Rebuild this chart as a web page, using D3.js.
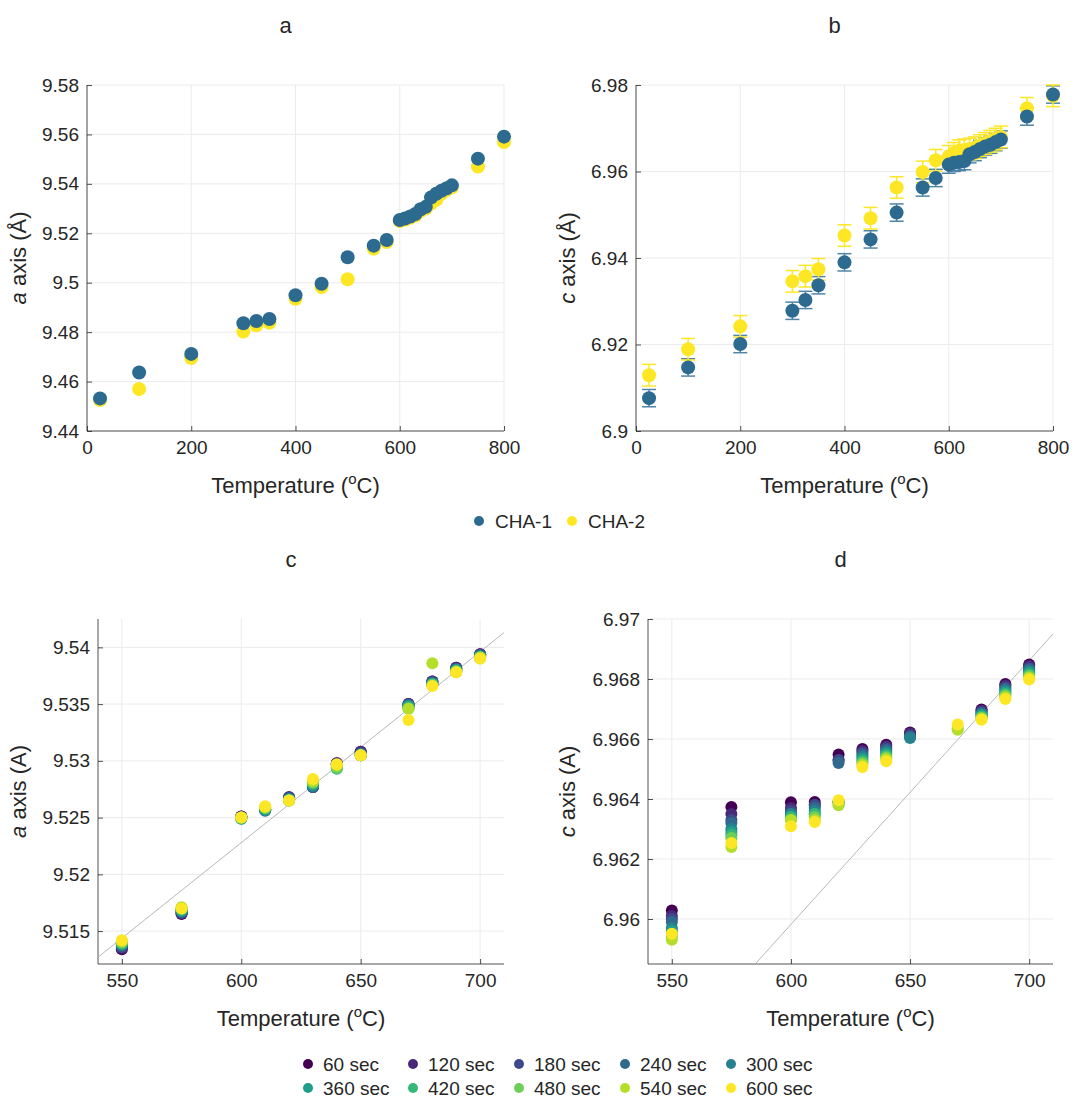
<html>
<head>
<script src="https://d3js.org/d3.v7.min.js"></script>
<style>
body { margin: 0; background: #fff; }
text { font-family: "Liberation Sans", Arial, sans-serif; fill: #262626; }
</style>
</head>
<body>
<script>
// ---- data: panels a & b (CHA-1, CHA-2) ----
var tempsAB = [25, 100, 200, 300, 325, 350, 400, 450, 500, 550, 575, 600, 610, 620, 630, 640, 650, 660, 670, 680, 690, 700, 750, 800];
var aCHA1 = [9.4532, 9.4637, 9.4712, 9.4836, 9.4845, 9.4853, 9.4949, 9.4996, 9.5103, 9.5150, 9.5173, 9.5254, 9.5260, 9.5268, 9.5278, 9.5297, 9.5307, 9.5345, 9.5360, 9.5372, 9.5382, 9.5394, 9.5502, 9.5591];
var aCHA2 = [9.4525, 9.4570, 9.4695, 9.4802, 9.4828, 9.4838, 9.4935, 9.4982, 9.5014, 9.5138, 9.5165, 9.5250, 9.5255, 9.5263, 9.5272, 9.5290, 9.5300, 9.5320, 9.5335, 9.5360, 9.5375, 9.5386, 9.5470, 9.5569];
var cCHA1 = [6.9076, 6.9147, 6.9201, 6.9278, 6.9303, 6.9337, 6.9390, 6.9443, 6.9505, 6.9563, 6.9585, 6.9616, 6.9620, 6.9622, 6.9624, 6.9640, 6.9645, 6.9652, 6.9658, 6.9662, 6.9668, 6.9674, 6.9727, 6.9778];
var cCHA2 = [6.9129, 6.9189, 6.9242, 6.9346, 6.9358, 6.9374, 6.9452, 6.9492, 6.9563, 6.9599, 6.9626, 6.9635, 6.9642, 6.9648, 6.9650, 6.9652, 6.9655, 6.9660, 6.9665, 6.9670, 6.9675, 6.9680, 6.9746, 6.9775];
var errCHA1 = 0.002, errCHA2 = 0.0025;
var seriesAB = ["CHA-1", "CHA-2"];
var colorsAB = ["#2d6a8f", "#fde725"];

// ---- data: panels c & d (time series) ----
var tempsCD = [550, 575, 600, 610, 620, 630, 640, 650, 670, 680, 690, 700];
var timeLabels = ["60 sec", "120 sec", "180 sec", "240 sec", "300 sec", "360 sec", "420 sec", "480 sec", "540 sec", "600 sec"];
// rows: temperature, columns: time series
var aTime = [
  [9.5134, 9.5135, 9.5136, 9.5137, 9.5138, 9.5139, 9.5139, 9.5140, 9.5141, 9.5142],
  [9.5165, 9.5166, 9.5166, 9.5167, 9.5168, 9.5168, 9.5169, 9.5170, 9.5171, 9.5170],
  [9.5251, 9.5251, 9.5250, 9.5250, 9.5250, 9.5249, 9.5249, 9.5250, 9.5250, 9.5250],
  [9.5257, 9.5257, 9.5257, 9.5256, 9.5257, 9.5257, 9.5258, 9.5259, 9.5259, 9.5260],
  [9.5268, 9.5268, 9.5267, 9.5267, 9.5266, 9.5266, 9.5265, 9.5265, 9.5265, 9.5265],
  [9.5277, 9.5277, 9.5277, 9.5277, 9.5278, 9.5279, 9.5280, 9.5281, 9.5282, 9.5284],
  [9.5298, 9.5298, 9.5297, 9.5297, 9.5296, 9.5294, 9.5293, 9.5294, 9.5296, 9.5297],
  [9.5308, 9.5308, 9.5307, 9.5306, 9.5305, 9.5305, 9.5305, 9.5305, 9.5305, 9.5305],
  [9.5350, 9.5350, 9.5349, 9.5349, 9.5349, 9.5348, 9.5347, 9.5346, 9.5346, 9.5336],
  [9.5370, 9.5370, 9.5369, 9.5369, 9.5368, 9.5368, 9.5367, 9.5367, 9.5386, 9.5366],
  [9.5382, 9.5382, 9.5381, 9.5381, 9.5380, 9.5380, 9.5379, 9.5379, 9.5378, 9.5378],
  [9.5394, 9.5394, 9.5393, 9.5393, 9.5392, 9.5392, 9.5391, 9.5391, 9.5391, 9.5390]
];
var cTime = [
  [6.96028, 6.96010, 6.96000, 6.95990, 6.95970, 6.95960, 6.95950, 6.95940, 6.95931, 6.95951],
  [6.96373, 6.96350, 6.96330, 6.96320, 6.96300, 6.96290, 6.96280, 6.96270, 6.96240, 6.96253],
  [6.96389, 6.96370, 6.96360, 6.96350, 6.96350, 6.96340, 6.96340, 6.96330, 6.96330, 6.96309],
  [6.96390, 6.96380, 6.96380, 6.96370, 6.96360, 6.96350, 6.96350, 6.96340, 6.96330, 6.96323],
  [6.96548, 6.96530, 6.96530, 6.96520, 6.96390, 6.96390, 6.96390, 6.96380, 6.96380, 6.96396],
  [6.96567, 6.96560, 6.96553, 6.96547, 6.96540, 6.96533, 6.96527, 6.96520, 6.96513, 6.96507],
  [6.96581, 6.96575, 6.96569, 6.96563, 6.96557, 6.96551, 6.96545, 6.96539, 6.96533, 6.96526],
  [6.96622, 6.96618, 6.96612, 6.96607, 6.96603, null, null, null, null, null],
  [null, null, null, null, null, null, null, 6.96635, 6.96631, 6.96648],
  [6.96698, 6.96694, 6.96690, 6.96686, 6.96682, 6.96679, 6.96675, 6.96671, 6.96668, 6.96664],
  [6.96783, 6.96778, 6.96772, 6.96767, 6.96761, 6.96756, 6.96750, 6.96745, 6.96739, 6.96733],
  [6.96848, 6.96843, 6.96837, 6.96832, 6.96826, 6.96821, 6.96815, 6.96810, 6.96804, 6.96798]
];
var refLineC = [[540, 9.5127], [710, 9.5413]];
var refLineD = [[585, 6.9585], [710, 6.9695]];

var svg = d3.select("body").append("svg").attr("width", 1072).attr("height", 1099);

function panel(opt) {
  var x = d3.scaleLinear().domain(opt.xd).range([opt.x0, opt.x1]);
  var y = d3.scaleLinear().domain(opt.yd).range([opt.y1, opt.y0]);
  var g = svg.append("g");
  var xt = opt.xticks, yt = opt.yticks;
  g.selectAll(".gx").data(xt).enter().append("line")
    .attr("x1", d => x(d)).attr("x2", d => x(d)).attr("y1", opt.y0).attr("y2", opt.y1)
    .attr("stroke", "#ebebeb");
  g.selectAll(".gy").data(yt).enter().append("line")
    .attr("y1", d => y(d)).attr("y2", d => y(d)).attr("x1", opt.x0).attr("x2", opt.x1)
    .attr("stroke", "#ebebeb");
  var ax = g.append("g").attr("transform", "translate(0," + opt.y1 + ")")
    .call(d3.axisBottom(x).tickValues(xt).tickSizeInner(-5).tickSizeOuter(0).tickPadding(10));
  var ay = g.append("g").attr("transform", "translate(" + opt.x0 + ",0)")
    .call(d3.axisLeft(y).tickValues(yt).tickSizeInner(-5).tickSizeOuter(0).tickPadding(8).tickFormat(d3.format("")));
  [ax, ay].forEach(function (a) {
    a.selectAll("path,line").attr("stroke", "#262626").attr("stroke-width", 0.8);
    a.selectAll("text").style("font-size", "19px").attr("fill", "#262626");
  });
  ax.select(".domain").attr("d", "M" + opt.x0 + ",0H" + opt.x1);
  ay.select(".domain").attr("d", "M0," + opt.y0 + "V" + opt.y1);
  // titles
  svg.append("text").attr("x", (opt.x0 + opt.x1) / 2 - 10).attr("y", opt.y0 - 52)
    .attr("text-anchor", "middle").style("font-size", "22px").text(opt.title);
  var xl = svg.append("text").attr("x", (opt.x0 + opt.x1) / 2).attr("y", opt.y1 + 62)
    .attr("text-anchor", "middle").style("font-size", "22px");
  xl.append("tspan").text("Temperature (");
  xl.append("tspan").attr("dy", -9).style("font-size", "15px").text("o");
  xl.append("tspan").attr("dy", 9).text("C)");
  var yl = svg.append("text")
    .attr("transform", "translate(" + opt.ylx + "," + ((opt.y0 + opt.y1) / 2) + ") rotate(-90)")
    .attr("text-anchor", "middle").style("font-size", "22px");
  yl.append("tspan").style("font-style", "italic").text(opt.yvar);
  yl.append("tspan").text(" axis (" + opt.unit + ")");
  return { g: g, x: x, y: y };
}

var pa = panel({ xd: [0, 800], yd: [9.44, 9.58], x0: 87, x1: 504, y0: 85, y1: 431,
  xticks: [0, 200, 400, 600, 800], yticks: [9.44, 9.46, 9.48, 9.5, 9.52, 9.54, 9.56, 9.58],
  title: "a", yvar: "a", unit: "Å", ylx: 26 });
var pb = panel({ xd: [0, 800], yd: [6.9, 6.98], x0: 636, x1: 1053, y0: 85, y1: 431,
  xticks: [0, 200, 400, 600, 800], yticks: [6.9, 6.92, 6.94, 6.96, 6.98],
  title: "b", yvar: "c", unit: "Å", ylx: 575 });
var pc = panel({ xd: [540, 710], yd: [9.5121, 9.5425], x0: 98, x1: 504, y0: 619, y1: 964,
  xticks: [550, 600, 650, 700], yticks: [9.515, 9.52, 9.525, 9.53, 9.535, 9.54],
  title: "c", yvar: "a", unit: "A", ylx: 26 });
var pd = panel({ xd: [540, 710], yd: [6.9585, 6.97], x0: 648, x1: 1053, y0: 619, y1: 964,
  xticks: [550, 600, 650, 700], yticks: [6.96, 6.962, 6.964, 6.966, 6.968, 6.97],
  title: "d", yvar: "c", unit: "A", ylx: 575 });

// a & b markers
function drawAB(p, vals, errs) {
  vals.forEach(function (arr, si) {
    var pts = tempsAB.map((t, i) => ({ t: t, v: arr[i] }));
    if (errs) {
      var e = errs[si];
      var eg = p.g.append("g").attr("stroke", si === 0 ? "#4f86a8" : "#fde725").attr("stroke-width", 1.5);
      eg.selectAll("line.v").data(pts).enter().append("line")
        .attr("x1", d => p.x(d.t)).attr("x2", d => p.x(d.t))
        .attr("y1", d => p.y(d.v - e)).attr("y2", d => p.y(d.v + e));
      [-e, e].forEach(function (o) {
        eg.selectAll(null).data(pts).enter().append("line")
          .attr("x1", d => p.x(d.t) - 7).attr("x2", d => p.x(d.t) + 7)
          .attr("y1", d => p.y(d.v + o)).attr("y2", d => p.y(d.v + o));
      });
    }
  });
  [1, 0].forEach(function (si) {
    p.g.selectAll(null).data(tempsAB).enter().append("circle")
      .attr("cx", d => p.x(d)).attr("cy", (d, i) => p.y(vals[si][i]))
      .attr("r", 7).attr("fill", colorsAB[si]);
  });
}
drawAB(pa, [aCHA1, aCHA2], null);
drawAB(pb, [cCHA1, cCHA2], [errCHA1, errCHA2]);

// legend a/b
var legAB = svg.append("g");
[[479, 0], [572, 1]].forEach(function (l) {
  legAB.append("circle").attr("cx", l[0]).attr("cy", 521).attr("r", 5).attr("fill", colorsAB[l[1]]);
  legAB.append("text").attr("x", l[0] + 16).attr("y", 528).style("font-size", "19px").text(seriesAB[l[1]]);
});

// c & d
var viridis = timeLabels.map((d, i) => d3.interpolateViridis(i / 9));
function drawCD(p, table, ref) {
  p.g.append("line").attr("x1", p.x(ref[0][0])).attr("y1", p.y(ref[0][1]))
    .attr("x2", p.x(ref[1][0])).attr("y2", p.y(ref[1][1]))
    .attr("stroke", "#b8b8b8").attr("stroke-width", 1);
  timeLabels.forEach(function (lab, si) {
    var pts = tempsCD.map((t, i) => ({ t: t, v: table[i][si] })).filter(d => d.v !== null);
    p.g.selectAll(null).data(pts).enter().append("circle")
      .attr("cx", d => p.x(d.t)).attr("cy", d => p.y(d.v))
      .attr("r", 6).attr("fill", viridis[si]);
  });
}
drawCD(pc, aTime, refLineC);
drawCD(pd, cTime, refLineD);

// legend c/d
var legX = [308, 413, 519, 625, 731];
timeLabels.forEach(function (lab, i) {
  var cx = legX[i % 5], cy = i < 5 ? 1064 : 1088;
  svg.append("circle").attr("cx", cx).attr("cy", cy).attr("r", 5).attr("fill", viridis[i]);
  svg.append("text").attr("x", cx + 15).attr("y", cy + 7).style("font-size", "19px").text(lab);
});
</script>
</body>
</html>
